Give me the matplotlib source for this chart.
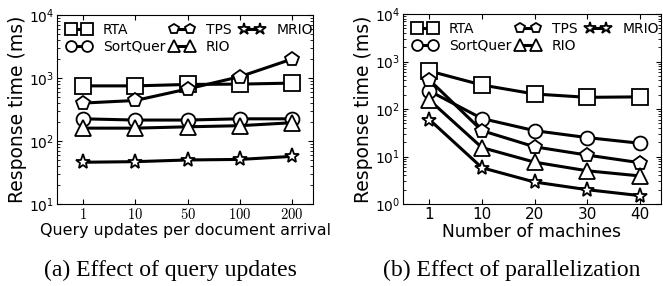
import matplotlib
matplotlib.use("Agg")
import matplotlib.pyplot as plt

# left panel: query updates per document arrival
updates = ["1", "10", "50", "100", "200"]
upd_rta = [750, 750, 790, 800, 830]
upd_sortquer = [225, 215, 215, 225, 225]
upd_tps = [400, 440, 670, 1050, 2000]
upd_rio = [160, 160, 168, 175, 195]
upd_mrio = [46, 47, 50, 51, 57]

# right panel: number of machines
machines = ["1", "10", "20", "30", "40"]
mac_rta = [630, 320, 207, 176, 180]
mac_sortquer = [240, 63, 35, 25, 19]
mac_tps = [410, 35, 16, 10.7, 7.4]
mac_rio = [155, 15.4, 7.6, 5.0, 3.9]
mac_mrio = [60, 5.8, 2.9, 2.0, 1.5]

names = ["RTA", "SortQuer", "TPS", "RIO", "MRIO"]
markers = ["s", "o", "p", "^", "*"]
msizes = [11, 10, 10, 11, 11]

W, H = 663, 286
fig = plt.figure(figsize=(W / 100, H / 100), dpi=100)
ax1 = fig.add_axes([57 / W, 1 - 204 / H, 256 / W, 189 / H])
ax2 = fig.add_axes([403 / W, 1 - 204 / H, 258 / W, 190 / H])

leg_kw = dict(numpoints=2, frameon=False, fontsize=10, handlelength=1.75,
              handletextpad=0.85, labelspacing=0.2, borderpad=0,
              borderaxespad=0, markerscale=0.78)


def draw(ax, series, ticks, ylim, xlabel, xl_size, serif_ticks):
    x = list(range(len(ticks)))
    lines = []
    for vals, name, m, ms in zip(series, names, markers, msizes):
        ln, = ax.plot(x, vals, color="black", lw=2.2, marker=m, ms=ms,
                      mfc="white", mec="black", mew=1.3, label=name)
        lines.append(ln)
    ax.set_yscale("log")
    ax.set_ylim(*ylim)
    ax.set_xlim(-0.5, len(ticks) - 0.6)
    ax.set_xticks(x)
    if serif_ticks:
        ax.set_xticklabels(["$%s$" % t for t in ticks])
        for lab in ax.get_xticklabels():
            lab.set_math_fontfamily("cm")
        ax.tick_params(axis="x", labelsize=10.5)
    else:
        ax.set_xticklabels(ticks)
        ax.tick_params(axis="x", labelsize=11)
    ax.tick_params(axis="y", labelsize=10)
    ax.tick_params(pad=2, direction="in", which="both", top=True, right=True)
    ax.tick_params(axis="x", which="minor", bottom=False, top=False)
    ax.set_ylabel("Response time (ms)", fontsize=13.5, labelpad=1.5)
    ax.set_xlabel(xlabel, fontsize=xl_size, labelpad=1)

    # legend drawn as two blocks: first column, then the other two columns
    bw = ax.bbox.width
    bh = ax.bbox.height
    top = 1 - 8 / bh
    leg1 = ax.legend(lines[:2], names[:2], loc="upper left",
                     bbox_to_anchor=(10 / bw, top), **leg_kw)
    ax.add_artist(leg1)
    ax.legend([lines[2], lines[3], lines[4]], [names[2], names[3], names[4]],
              loc="upper left", bbox_to_anchor=(113 / bw, top), ncol=2,
              columnspacing=0.6, **leg_kw)


draw(ax1, [upd_rta, upd_sortquer, upd_tps, upd_rio, upd_mrio], updates,
     (10, 1e4), "Query updates per document arrival", 11.4, True)
draw(ax2, [mac_rta, mac_sortquer, mac_tps, mac_rio, mac_mrio], machines,
     (1, 1e4), "Number of machines", 12.3, False)

fig.text(170 / W, 1 - 270 / H, "(a) Effect of query updates",
         family="Liberation Serif", fontsize=17, ha="center", va="center")
fig.text(512 / W, 1 - 270 / H, "(b) Effect of parallelization",
         family="Liberation Serif", fontsize=17, ha="center", va="center")

fig.savefig("out.png", dpi=100)
